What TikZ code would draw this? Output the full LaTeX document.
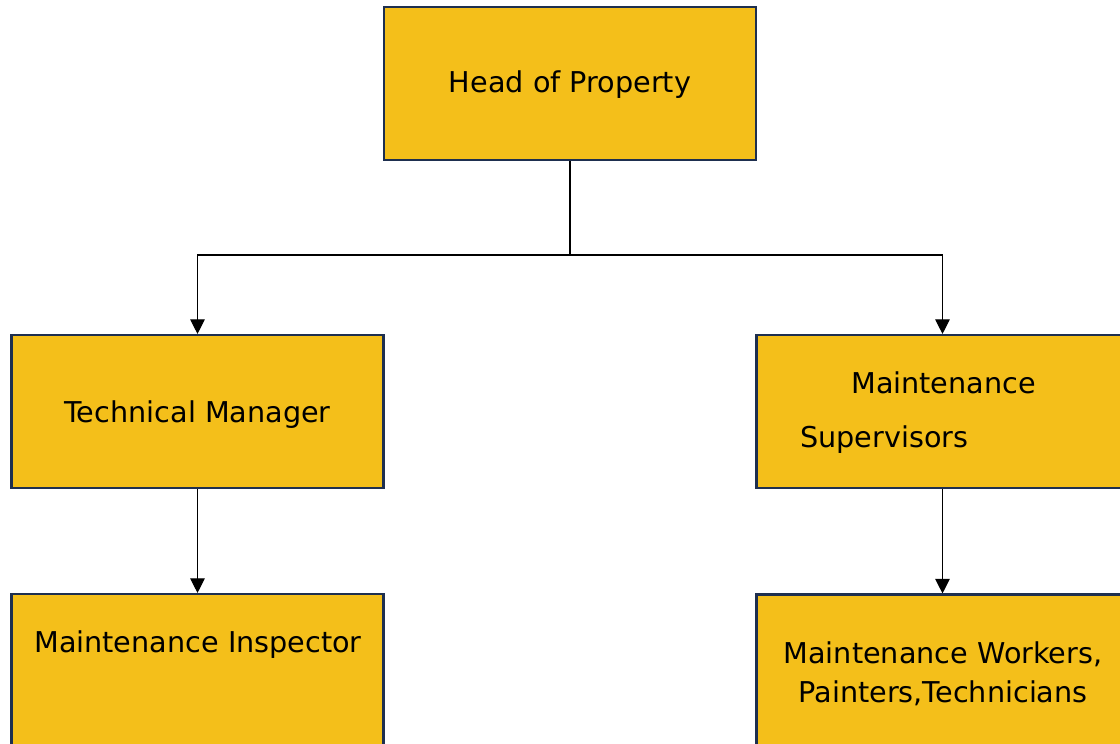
\documentclass[tikz,border=0pt]{standalone}
\usepackage{fontspec}
\setmainfont{DejaVu Sans}
\usetikzlibrary{arrows.meta}
\definecolor{boxfill}{HTML}{F4BF1A}
\definecolor{boxline}{HTML}{1E2F4F}
\tikzset{
  orgbox/.style={draw=boxline, line width=1.6pt, fill=boxfill, minimum width=279pt, minimum height=114.75pt, inner sep=0pt},
  lbl/.style={inner sep=0pt, font=\fontsize{21.5}{29.25}\selectfont, text=black},
  conn/.style={draw=black, line width=0.8pt, -{Triangle[length=11pt,width=11pt]}},
}
\begin{document}
\begin{tikzpicture}[x=0.75pt, y=-0.75pt]
\useasboundingbox (0,0) rectangle (1120,743);
\clip (0,0) rectangle (1120,743);
\fill[white] (0,0) rectangle (1120,743);
\node[orgbox] (head) at (570,83.5) {};
\node[orgbox] (tm) at (197.5,411.5) {};
\node[orgbox] (sup) at (942.5,411.5) {};
\node[orgbox] (insp) at (197.5,670.5) {};
\node[orgbox] (work) at (942.5,671) {};
\node[lbl, anchor=base] (headt) at (570,92) {Head of Property};
\node[lbl, anchor=base] (tmt) at (197.5,422) {Technical Manager};
\node[lbl, anchor=base west] (supt1) at (851,393) {Maintenance};
\node[lbl, anchor=base west] (supt2) at (800,447) {Supervisors};
\node[lbl, anchor=base] (inspt) at (198,652) {Maintenance Inspector};
\node[lbl, anchor=base, align=center] (workt) at (943,702) {Maintenance Workers,\\Painters,Technicians};
\coordinate (j) at (570,255);
\draw[line width=0.9pt] (head.south) -- (j);
\draw[conn] (j) -| (tm.north);
\draw[conn] (j) -| (sup.north);
\draw[conn] (tm.south) -- (insp.north);
\draw[conn] (sup.south) -- (work.north);
\end{tikzpicture}
\end{document}
